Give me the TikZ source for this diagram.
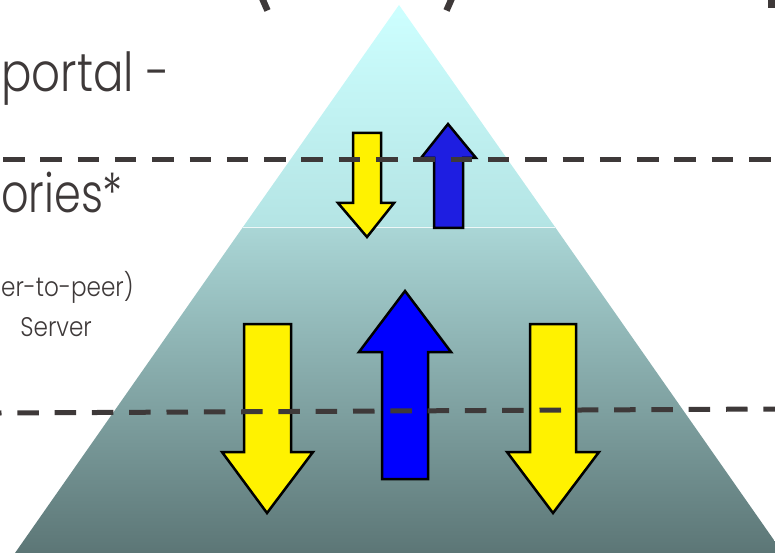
\documentclass[tikz,border=0pt]{standalone}
\usepackage{fontspec}
\setmainfont{Poppins}[UprightFont={* Light}]
\usepackage{graphicx}
\usepackage{tikz}
\usetikzlibrary{positioning,calc}
\definecolor{inkgray}{RGB}{62,57,57}
\definecolor{apexcyan}{RGB}{205,255,255}
\definecolor{midcyan}{RGB}{180,228,228}
\definecolor{midteal}{RGB}{170,214,214}
\definecolor{baseteal}{RGB}{92,118,118}
\definecolor{arrowblue}{RGB}{0,0,255}
\definecolor{darkblue}{RGB}{30,30,225}
\newcommand{\narrow}[2]{\scalebox{#1}[1]{#2}}
\tikzset{
  divider/.style={draw=inkgray,line width=5bp,dash pattern=on 21.5bp off 15.8bp},
  bigtext/.style={text=inkgray,font=\fontsize{54}{60}\selectfont,inner sep=0pt},
  smalltext/.style={text=inkgray,font=\fontsize{27}{30}\selectfont,inner sep=0pt},
  yellowblock/.style={draw=black,fill=yellow,line width=2.5bp,line join=miter},
  blueblock/.style={draw=black,fill=arrowblue,line width=2.5bp,line join=miter},
}

\begin{document}
\begin{tikzpicture}[x=1bp,y=-1bp]
\useasboundingbox (0,0) rectangle (775,553);
\clip (0,0) rectangle (775,553);

% pyramid, two bands
\shade[top color=apexcyan,bottom color=midcyan]
  (399,5) -- (555,227) -- (243,227) -- cycle;
\shade[top color=midteal,bottom color=baseteal]
  (243,227) -- (555,227) -- (783,553) -- (15,553) -- cycle;
\draw[white!80!midteal,line width=0.8bp] (243,227) -- (555,227);

% pieces of the title above
\draw[inkgray,line width=6.5bp] (262,-2) -- (267.5,10.5);
\draw[inkgray,line width=6.5bp] (452,-2) -- (446.5,10.5);
\fill[inkgray] (768,0) rectangle (776,8);

% level lines
\coordinate (upL) at (0,160);
\coordinate (upR) at (775,160);
\coordinate (loL) at (0,413);
\coordinate (loR) at (775,409);

% texts at the left
\node[bigtext,anchor=base west] (portal) at (1,92) {\narrow{0.84}{portal -}};
\node[bigtext,anchor=base west] (ories) at (1,213) {\narrow{0.8}{ories*}};
\node[smalltext,anchor=base west] (peer) at (1,297) {\narrow{0.86}{er-to-peer)}};
\node[smalltext,anchor=base east] (server) at (92,336) {\narrow{0.86}{Server}};

% small arrows
\draw[yellowblock] (353,133) -- (381,133) -- (381,203) -- (394,203)
  -- (367,237) -- (338,203) -- (353,203) -- cycle;
\draw[blueblock,fill=darkblue] (434,228) -- (463,228) -- (463,158) -- (476,158)
  -- (448,124) -- (421,158) -- (434,158) -- cycle;

\draw[divider,dash phase=34.3bp] (upL) -- (upR);

% big arrows
\draw[yellowblock] (244,324) -- (291,324) -- (291,452) -- (313,452)
  -- (267,513) -- (222,452) -- (244,452) -- cycle;
\draw[blueblock] (382,479) -- (428,479) -- (428,352) -- (451,352)
  -- (405,291) -- (359,352) -- (382,352) -- cycle;
\draw[yellowblock] (530,324) -- (576,324) -- (576,452) -- (599,452)
  -- (553,513) -- (507,452) -- (530,452) -- cycle;

\draw[divider,dash phase=20bp] (loL) -- (loR);
\end{tikzpicture}
\end{document}
